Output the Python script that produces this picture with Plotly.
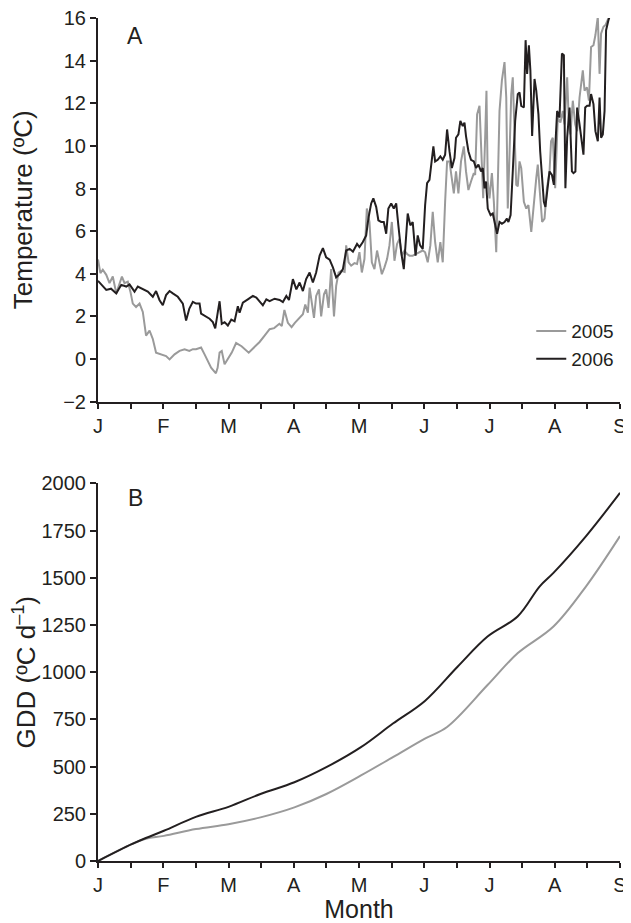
import plotly.graph_objects as go

# ---------------- data ----------------
month_ticks = [0, 30, 60, 90, 120, 150, 180, 210, 240]
month_labels = ["J", "F", "M", "A", "M", "J", "J", "A", "S"]
minor_ticks = [15, 45, 75, 105, 135, 165, 195, 225]

# Panel A: daily temperature (day index, 30 days per month step on axis)
t2006_day = [0, 1.5, 3.8, 6, 8.4, 10.7, 13, 14.5, 16.8, 18.3, 20.6, 22.9, 25.2, 26.7, 28.3, 29.8,
             31.3, 32.9, 34.4, 36.7, 39, 40.5, 42, 43.6, 45.1, 46.7, 47.4, 49.7, 51.3, 52.8, 53.9,
             55.1, 55.9, 56.9, 58.2, 59.7, 61.3, 62.8, 64.3, 65.1, 66.6, 68.9, 71.2, 72.8, 74.3,
             75.8, 77.4, 78.9, 81.2, 83.5, 85, 86.6, 87.8, 89.6, 91.2, 92.7, 94.2, 95.7, 97.3, 98.8,
             100.3, 101.9, 103.4, 104.9, 106.5, 108, 109.5, 111.1, 112.6, 114.1, 115.7, 117.2, 119.1,
             120.2, 121.7, 123.3, 124.3, 125.6, 126.6, 127.9, 128.9, 130.2, 131.4, 132.5, 133.5,
             134.8, 136, 137.1, 138.1, 139.4, 140.6, 141.7, 142.4, 143.6, 144.7, 146, 147, 148.1,
             149.3, 150.4, 151.3, 152.4, 153.5, 154.2, 155, 156.2, 157.4, 158.5, 159.6, 160.5, 161.6,
             162.7, 163.9, 164.6, 165.7, 166.6, 167.7, 168.5, 169.2, 170.3, 171.5, 172.8, 173.8,
             174.9, 176.1, 176.9, 177.7, 178.4, 179.2, 180.5, 181.5, 182.6, 183.5, 184.6, 185.7,
             186.9, 188, 188.7, 189.7, 190.7, 191.8, 193, 193.8, 194.6, 195.8, 196.6, 197.3, 198.1,
             198.8, 199.6, 200.7, 201.5, 202.5, 203.3, 204.1, 205, 205.7, 206.5, 207.6, 208.7, 209.6,
             210.3, 211.1, 212.2, 213.3, 214.2, 214.9, 215.7, 216.8, 217.9, 218.6, 219.5, 220.3,
             221.4, 222.1, 223.2, 224, 224.9, 226, 226.7, 227.8, 228.7, 229.8, 230.6, 231.3, 232.1,
             232.9, 233.6, 234.7, 235.6]
t2006_val = [3.67, 3.48, 3.24, 3.3, 3.08, 3.48, 3.4, 3.5, 3.16, 3.4, 3.29, 3.16, 2.92, 3.19, 2.76, 2.52,
             3.0, 3.19, 3.08, 2.92, 2.6, 1.81, 2.37, 2.68, 2.6, 2.6, 2.13, 1.97, 1.89, 1.73, 1.44,
             2.21, 2.71, 1.65, 1.73, 1.57, 1.85, 1.77, 2.48, 2.17, 2.64, 2.8, 2.96, 2.88, 2.67,
             2.52, 2.8, 2.72, 2.83, 2.77, 2.67, 2.96, 2.77, 3.75, 3.27, 3.59, 3.19, 3.75, 4.06, 3.59,
             4.06, 4.85, 5.2, 4.77, 4.66, 4.3, 3.83, 3.98, 4.22, 5.09, 5.17, 5.04, 5.4,
             5.25, 5.48, 5.8, 6.59, 7.3, 7.54, 7.14, 6.51, 6.43, 6.43, 5.88, 7.06,
             7.3, 7.06, 7.3, 6.27, 5.01, 4.22, 5.8, 6.83, 6.27, 6.43, 4.85, 5.8, 5.33,
             5.17, 7.22, 8.25, 8.41, 9.27, 9.98, 9.27, 9.35, 9.51, 9.35, 9.59, 10.77, 9.75,
             8.96, 9.43, 10.38, 10.54, 11.17, 10.93, 11.09, 10.46, 9.75, 9.35, 9.27, 8.96,
             9.12, 8.8, 8.96, 8.01, 8.33, 7.06, 6.75, 6.83, 6.27, 5.88, 6.43, 6.35,
             6.43, 6.59, 6.43, 6.75, 8.8, 11.17, 12.43, 12.51, 11.88, 11.8, 14.96, 13.38, 14.72,
             13.54, 10.46, 13.14, 12.59, 11.48, 9.75, 8.49, 7.38, 7.14, 7.77, 8.8, 8.64, 8.17,
             10.06, 11.64, 11.33, 14.33, 14.25, 8.01, 10.38, 11.8, 8.8, 8.72, 8.8, 11.8,
             11.01, 10.38, 9.59, 11.8, 11.88, 11.88, 12.43, 11.96, 10.69, 10.22, 12.27, 10.38, 10.54,
             11.64, 15.43, 15.9, 16.2]

t2005_day = [0, 1.1, 2.2, 3.8, 5.3, 6.8, 8.4, 9.9, 11, 12.2, 13.7, 14.9, 16, 17.5, 19.1, 20.6, 22.1,
             23.7, 25.2, 26.7, 29, 31.3, 32.9, 35.2, 37.5, 39.8, 42, 43.6, 45.1, 47.4, 49, 50.5, 52,
             54.2, 55, 55.9, 56.9, 58.2, 59.7, 61.5, 63.5, 66, 69.3, 72, 74.3, 76.6, 78.9, 81, 83.4,
             84.5, 85.7, 87.3, 89, 90.5, 92.7, 94.2, 95.3, 96.5, 97.3, 98.4, 99.3, 100.3, 101.6,
             102.6, 103.9, 104.9, 106, 107.2, 108.5, 109.5, 110.6, 111.8, 113.4, 114.1, 115.2, 116.4,
             117.9, 119.1, 120.2, 121.3, 122.5, 123.6, 124.8, 125.9, 127.1, 128.3, 129.4, 130.5,
             131.7, 132.9, 134, 135.1, 136.3, 137.5, 138.6, 139.7, 140.9, 142.1, 143.2, 144.7, 146.3,
             147.8, 149.3, 150.4, 151.6, 152.8, 153.9, 155, 156.2, 157.4, 158.5, 159.6, 160.5, 161.6,
             162.7, 163.6, 164.6, 165.7, 166.9, 168.2, 169.2, 170.3, 171.5, 172.8, 173.4, 174.3,
             175.4, 176.4, 177.1, 178, 178.6, 179.2, 180, 181.1, 182, 183.1, 183.8, 184.6, 185.7,
             186.9, 187.7, 188.4, 189.2, 190, 190.7, 191.5, 192.3, 193, 193.8, 194.6, 195.8, 196.9,
             197.9, 199.2, 200.2, 201.5, 202.2, 203.3, 204.2, 205.3, 206.4, 207.6, 208.3, 209.1,
             210.2, 211.4, 212.6, 213.7, 214.5, 215.7, 216.5, 217.2, 218.3, 219.4, 220.3, 221.4,
             222.9, 223.7, 224.8, 225.7, 226.7, 227.8, 228.7, 229.8, 230.6, 231.3, 232.4, 233.3,
             234.4, 235.6]
t2005_val = [4.67, 4.03, 4.19, 3.95, 3.56, 3.87, 3.08, 3.48, 3.87, 3.56, 3.63, 3.16, 2.6, 2.44, 2.6, 2.21, 1.1,
             1.33, 0.94, 0.3, 0.22, 0.14, -0.02, 0.22, 0.38, 0.46, 0.38, 0.46, 0.46, 0.54, 0.22, -0.1, -0.41,
             -0.67, -0.41, 0.3, 0.38, -0.25, -0.02, 0.3, 0.75, 0.6, 0.3, 0.55, 0.8, 1.1, 1.4, 1.45, 1.65,
             1.55, 2.3, 1.7, 1.5, 1.7, 1.95, 2.1, 2.56, 2.17, 3.35, 2.48, 1.93, 2.96, 3.27,
             2.0, 3.04, 3.27, 2.4, 4.22, 2.0, 3.43, 4.06, 4.14, 4.09, 5.33, 4.54, 4.38,
             4.5, 4.46, 5.01, 4.06, 4.69, 7.06, 6.43, 4.54, 4.22, 5.09, 4.54, 3.98,
             4.3, 4.69, 5.33, 6.43, 4.61, 5.4, 5.64, 4.85, 5.09, 4.93, 4.85, 4.85, 4.93,
             5.01, 5.09, 5.01, 4.54, 5.33, 6.91, 5.48, 4.54, 5.48, 4.54, 7.38, 9.27, 9.27,
             8.33, 7.77, 8.8, 7.77, 9.27, 9.98, 8.8, 7.93, 8.33, 8.72, 8.64, 11.48,
             11.88, 8.8, 7.54, 10.38, 12.59, 8.33, 7.54, 8.72, 7.38, 5.01, 8.49, 11.64, 13.07,
             13.93, 12.27, 7.06, 9.59, 12.43, 13.22, 10.38, 8.17, 8.1, 9.27, 8.96, 7.38, 7.06,
             7.22, 5.96, 7.22, 8.49, 9.12, 7.54, 6.43, 6.59, 8.01, 8.8, 10.22, 10.38,
             8.01, 11.33, 11.09, 11.64, 11.01, 13.22, 11.01, 10.54, 12.12, 11.01, 10.69, 12.27,
             13.54, 12.59, 12.75, 12.12, 14.64, 14.72, 15.2, 16.06, 13.38, 15.27, 15.59, 15.67,
             15.9, 16.2]

# Panel B: cumulative growing degree days
gdd2006_day = [0, 15.5, 22, 30.3, 45, 60, 74.7, 90.3, 105, 120.9, 135.6, 150.3, 165.3, 179.1,
               192.9, 203.1, 209.4, 224.4, 240]
gdd2006_val = [0, 89, 122, 160, 234, 287, 355, 417, 497, 603, 728, 848, 1029, 1189,
               1295, 1455, 1526, 1721, 1950]
gdd2005_day = [0, 15.5, 22, 30.3, 45, 60, 74.7, 90.3, 105, 120.9, 135.6, 150.3, 160.5, 179.1,
               192.9, 209.4, 224.4, 240]
gdd2005_val = [0, 89, 118, 133, 169, 195, 231, 284, 355, 453, 550, 648, 710, 932,
               1100, 1242, 1455, 1721]

# ---------------- style ----------------
INK = "#231f20"
GRAY = "#9a9a9a"
FONT = "Liberation Sans, Arial, Helvetica, sans-serif"

fig = go.Figure()
fig.add_trace(go.Scatter(x=t2005_day, y=t2005_val, mode="lines", name="2005",
                         line=dict(color=GRAY, width=2), xaxis="x", yaxis="y"))
fig.add_trace(go.Scatter(x=t2006_day, y=t2006_val, mode="lines", name="2006",
                         line=dict(color=INK, width=2), xaxis="x", yaxis="y"))
fig.add_trace(go.Scatter(x=gdd2005_day, y=gdd2005_val, mode="lines", name="2005",
                         line=dict(color=GRAY, width=2, shape="spline"), xaxis="x2", yaxis="y2",
                         showlegend=False))
fig.add_trace(go.Scatter(x=gdd2006_day, y=gdd2006_val, mode="lines", name="2006",
                         line=dict(color=INK, width=2, shape="spline"), xaxis="x2", yaxis="y2",
                         showlegend=False))

axis_common = dict(showline=True, linecolor=INK, linewidth=2, ticks="outside", ticklen=6,
                   tickwidth=1.5, tickcolor=INK, showgrid=False, zeroline=False,
                   automargin=False, ticklabeloverflow="allow",
                   tickfont=dict(size=20, color=INK, family=FONT))
xcommon = dict(axis_common, range=[0, 240], tickmode="array", tickvals=month_ticks,
               ticktext=month_labels, ticklen=5,
               minor=dict(tickmode="array", tickvals=minor_ticks, ticks="outside",
                          ticklen=5, tickwidth=1.5, tickcolor=INK))

# the page body adds an 8px offset, so the figure is 8px smaller than the window
fig.update_layout(
    width=623, height=915,
    margin=dict(l=90, r=11, t=10, b=62),
    paper_bgcolor="white", plot_bgcolor="white",
    font=dict(family=FONT, color=INK),
    xaxis=dict(xcommon, anchor="y", domain=[0, 1]),
    yaxis=dict(axis_common, anchor="x", domain=[0.5449, 1], range=[-2, 16], dtick=2,
               tick0=0, title=dict(text="Temperature (ºC)", font=dict(size=26, color=INK),
                                   standoff=28)),
    xaxis2=dict(xcommon, anchor="y2", domain=[0, 1],
                title=dict(text="Month", font=dict(size=25, color=INK), standoff=4)),
    yaxis2=dict(axis_common, anchor="x2", domain=[0, 0.4479], range=[0, 2000], dtick=250,
                title=dict(text="GDD (ºC d<sup>–1</sup>)", font=dict(size=26, color=INK),
                           standoff=13)),
    legend=dict(x=0.83, y=0.651, xanchor="left", yanchor="top",
                font=dict(size=19, color=INK, family=FONT), bgcolor="rgba(0,0,0,0)",
                itemwidth=30, tracegroupgap=0),
    showlegend=True,
    annotations=[
        dict(text="A", xref="paper", yref="paper", x=0.0709, y=0.979, showarrow=False,
             font=dict(size=23, color=INK), xanchor="center", yanchor="middle"),
        dict(text="B", xref="paper", yref="paper", x=0.0709, y=0.4305, showarrow=False,
             font=dict(size=23, color=INK), xanchor="center", yanchor="middle"),
    ],
)

fig.write_html("out.html")
